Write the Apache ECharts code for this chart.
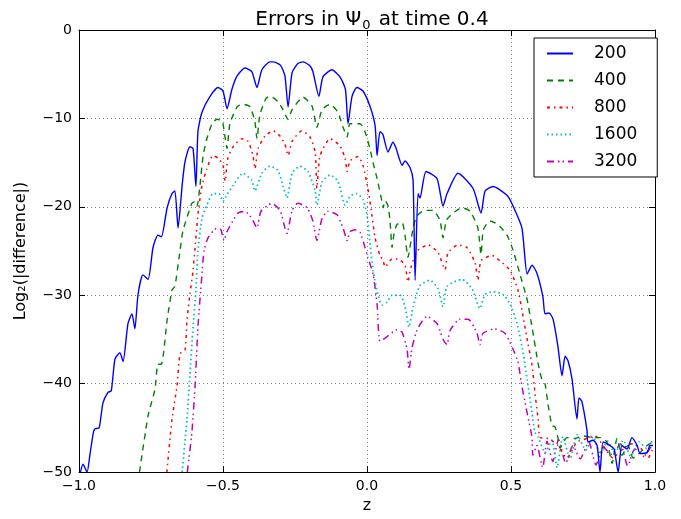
<!DOCTYPE html>
<html><head><meta charset="utf-8">
<script src="https://cdn.jsdelivr.net/npm/echarts@6/dist/echarts.min.js"></script>
<style>html,body{margin:0;padding:0;background:#fff}#c{width:681px;height:519px}</style>
</head><body><div id="c"></div>
<script>
const seriesNames = ["200","400","800","1600","3200"];
const xTicks = [-1.0,-0.5,0.0,0.5,1.0];
const yTicks = [0,-10,-20,-30,-40,-50];

const z200 = [-0.995,-0.986,-0.972,-0.962,-0.950,-0.944,-0.930,-0.917,-0.900,-0.888,-0.875,-0.858,-0.847,-0.830,-0.816,-0.806,-0.795,-0.778,-0.760,-0.743,-0.726,-0.714,-0.694,-0.677,-0.667,-0.656,-0.642,-0.632,-0.615,-0.604,-0.594,-0.587,-0.573,-0.545,-0.517,-0.500,-0.486,-0.469,-0.451,-0.424,-0.400,-0.382,-0.365,-0.337,-0.326,-0.300,-0.285,-0.274,-0.260,-0.240,-0.222,-0.200,-0.188,-0.167,-0.153,-0.122,-0.094,-0.075,-0.066,-0.052,-0.035,-0.014,0.010,0.028,0.035,0.045,0.055,0.073,0.090,0.100,0.122,0.132,0.150,0.160,0.167,0.177,0.184,0.205,0.243,0.264,0.278,0.316,0.368,0.396,0.410,0.438,0.486,0.507,0.538,0.556,0.573,0.590,0.611,0.618,0.632,0.646,0.663,0.677,0.688,0.698,0.712,0.729,0.736,0.746,0.764,0.767,0.785,0.799,0.809,0.820,0.844,0.858,0.872,0.885,0.903,0.920,0.938,0.948,0.972,0.983,0.993];
const v200 = [-50.0,-49.1,-50.0,-48.0,-45.5,-45.1,-45.0,-42.2,-41.0,-40.8,-37.2,-36.5,-37.5,-33.2,-32.1,-33.8,-29.9,-27.7,-28.2,-24.6,-23.2,-23.4,-20.1,-18.5,-18.2,-22.4,-17.6,-14.9,-13.2,-13.4,-17.7,-11.5,-9.3,-7.5,-6.5,-6.9,-8.9,-6.7,-5.2,-4.3,-4.7,-6.5,-4.5,-3.6,-3.6,-4.0,-5.2,-8.7,-4.8,-3.8,-3.6,-4.0,-4.7,-7.5,-5.3,-4.5,-5.3,-6.7,-10.6,-7.5,-6.5,-6.9,-8.6,-10.8,-14.2,-11.5,-11.8,-13.8,-12.7,-13.3,-15.3,-14.8,-15.6,-17.0,-28.3,-18.5,-19.0,-16.0,-16.8,-19.9,-18.5,-16.2,-17.9,-20.7,-18.2,-17.7,-18.7,-19.9,-22.4,-27.6,-26.6,-27.5,-30.2,-32.1,-32.0,-32.7,-35.8,-39.1,-36.9,-37.4,-39.5,-44.0,-41.6,-42.0,-45.3,-46.6,-46.4,-47.0,-50.0,-46.6,-47.0,-47.4,-50.0,-47.0,-47.4,-46.1,-47.0,-47.9,-47.8,-47.0,-47.0];

const z400 = [-0.790,-0.760,-0.736,-0.726,-0.714,-0.694,-0.677,-0.667,-0.649,-0.639,-0.608,-0.597,-0.590,-0.580,-0.569,-0.556,-0.538,-0.521,-0.503,-0.497,-0.486,-0.476,-0.451,-0.431,-0.406,-0.389,-0.382,-0.372,-0.350,-0.335,-0.309,-0.292,-0.274,-0.260,-0.222,-0.191,-0.174,-0.156,-0.128,-0.101,-0.083,-0.069,-0.059,-0.024,-0.007,0.010,0.021,0.035,0.052,0.056,0.063,0.073,0.080,0.087,0.094,0.104,0.122,0.132,0.142,0.160,0.174,0.201,0.229,0.253,0.264,0.276,0.299,0.330,0.358,0.385,0.396,0.404,0.427,0.455,0.486,0.507,0.531,0.556,0.573,0.594,0.607,0.618,0.628,0.642,0.653,0.663,0.670,0.694,0.722,0.750,0.781,0.809,0.833,0.851,0.868,0.885,0.906,0.924,0.948,0.972,0.993];
const v400 = [-50.0,-43.6,-40.6,-37.8,-37.8,-32.8,-29.4,-29.0,-24.9,-22.7,-19.6,-19.4,-19.9,-17.6,-14.2,-12.3,-10.6,-10.1,-10.3,-11.2,-13.4,-10.6,-8.7,-8.4,-8.7,-10.4,-12.3,-9.6,-7.7,-7.5,-8.1,-9.0,-10.1,-9.0,-7.6,-8.6,-11.0,-9.0,-8.4,-9.3,-11.0,-12.1,-10.6,-10.6,-11.5,-13.4,-15.0,-16.8,-19.4,-20.1,-19.3,-19.9,-21.6,-24.6,-23.0,-22.0,-21.8,-23.2,-25.7,-22.4,-21.0,-20.4,-20.4,-21.5,-23.5,-21.5,-20.7,-20.1,-20.5,-22.4,-25.4,-22.6,-21.6,-22.0,-23.2,-24.9,-27.6,-30.5,-33.6,-37.7,-39.5,-40.0,-42.2,-44.7,-44.9,-46.1,-47.3,-46.1,-46.2,-45.9,-46.1,-46.1,-46.6,-49.0,-46.2,-48.1,-47.0,-48.4,-47.8,-47.0,-46.6];

const z800 = [-0.695,-0.677,-0.660,-0.649,-0.632,-0.625,-0.615,-0.604,-0.597,-0.587,-0.573,-0.556,-0.535,-0.517,-0.500,-0.493,-0.483,-0.465,-0.434,-0.413,-0.396,-0.389,-0.378,-0.354,-0.326,-0.302,-0.285,-0.274,-0.260,-0.226,-0.198,-0.180,-0.174,-0.163,-0.128,-0.094,-0.076,-0.069,-0.059,-0.031,-0.014,0.003,0.017,0.028,0.045,0.056,0.063,0.087,0.108,0.132,0.142,0.153,0.174,0.212,0.247,0.271,0.281,0.316,0.347,0.375,0.385,0.396,0.434,0.462,0.497,0.524,0.542,0.559,0.573,0.583,0.594,0.601,0.629,0.663,0.694,0.729,0.764,0.792,0.820,0.854,0.889,0.920,0.948,0.976,0.993];
const v800 = [-50.0,-44.0,-40.3,-36.6,-36.2,-32.8,-29.9,-27.2,-24.6,-20.9,-17.6,-15.7,-14.2,-14.5,-15.3,-17.1,-14.5,-13.2,-12.3,-12.6,-14.2,-15.7,-13.4,-12.0,-11.4,-12.0,-12.9,-14.2,-12.6,-11.4,-12.1,-13.8,-17.9,-14.2,-12.3,-13.1,-14.5,-16.0,-14.8,-14.3,-15.3,-17.9,-20.9,-23.5,-25.5,-26.1,-26.8,-25.9,-25.9,-26.6,-28.5,-26.8,-25.0,-24.3,-25.2,-27.1,-25.2,-24.3,-24.6,-26.3,-28.3,-26.1,-25.5,-26.1,-27.2,-29.4,-32.4,-35.5,-37.9,-41.0,-44.0,-46.1,-46.2,-47.0,-48.4,-46.6,-46.2,-45.9,-47.0,-48.4,-47.3,-46.8,-47.2,-48.4,-47.3];

const z1600 = [-0.642,-0.625,-0.615,-0.604,-0.594,-0.587,-0.573,-0.556,-0.535,-0.514,-0.500,-0.486,-0.465,-0.431,-0.400,-0.389,-0.365,-0.337,-0.309,-0.292,-0.278,-0.260,-0.233,-0.205,-0.180,-0.174,-0.156,-0.128,-0.101,-0.076,-0.059,-0.035,-0.014,0.000,0.010,0.021,0.038,0.052,0.069,0.087,0.115,0.132,0.146,0.160,0.184,0.219,0.247,0.264,0.278,0.330,0.365,0.392,0.410,0.438,0.472,0.497,0.521,0.542,0.556,0.573,0.583,0.594,0.618,0.642,0.660,0.680,0.705,0.730,0.760,0.785,0.810,0.835,0.860,0.890,0.915,0.945,0.970,0.995];
const v1600 = [-50.0,-44.0,-39.1,-33.6,-29.4,-25.0,-21.3,-19.8,-18.5,-18.5,-19.4,-18.6,-17.6,-16.2,-17.0,-18.2,-16.2,-15.4,-15.9,-17.6,-19.0,-16.2,-15.4,-16.0,-18.2,-19.8,-17.2,-16.4,-17.1,-19.8,-18.8,-18.5,-19.2,-20.9,-24.0,-27.2,-29.9,-31.1,-30.8,-30.0,-30.0,-31.3,-33.6,-31.3,-28.9,-28.3,-29.3,-31.3,-29.0,-28.2,-29.3,-31.5,-29.9,-29.6,-29.9,-31.0,-33.2,-36.5,-39.5,-43.3,-45.5,-46.0,-47.8,-46.4,-49.5,-46.0,-48.5,-45.8,-47.5,-46.0,-48.0,-46.5,-47.8,-46.4,-48.2,-46.6,-47.3,-46.2];

const z3200 = [-0.624,-0.608,-0.597,-0.587,-0.573,-0.566,-0.552,-0.521,-0.507,-0.497,-0.486,-0.448,-0.424,-0.400,-0.389,-0.382,-0.368,-0.330,-0.302,-0.285,-0.278,-0.260,-0.240,-0.208,-0.188,-0.174,-0.156,-0.135,-0.104,-0.083,-0.069,-0.059,-0.042,-0.024,-0.007,0.003,0.021,0.035,0.045,0.069,0.104,0.122,0.139,0.146,0.156,0.174,0.208,0.243,0.264,0.278,0.288,0.323,0.351,0.382,0.392,0.403,0.444,0.479,0.507,0.524,0.538,0.556,0.573,0.576,0.590,0.610,0.625,0.645,0.665,0.690,0.715,0.740,0.770,0.795,0.820,0.850,0.880,0.905,0.930,0.960,0.990];
const v3200 = [-50.0,-45.5,-40.3,-33.6,-27.6,-25.0,-23.5,-22.4,-22.6,-23.8,-22.8,-20.7,-20.5,-21.3,-22.0,-22.4,-20.5,-19.6,-20.4,-22.4,-23.0,-20.4,-19.6,-20.1,-21.6,-23.8,-21.3,-20.5,-20.9,-22.4,-23.8,-22.8,-22.6,-22.9,-24.6,-25.7,-27.6,-31.0,-35.2,-34.7,-33.9,-34.2,-36.1,-38.4,-36.0,-33.9,-32.4,-33.2,-35.0,-35.6,-34.0,-32.7,-32.7,-34.3,-35.6,-34.3,-33.8,-34.3,-36.1,-37.5,-40.3,-43.3,-46.1,-48.1,-47.0,-49.5,-46.5,-48.8,-46.3,-49.0,-47.0,-48.5,-46.6,-49.2,-47.2,-48.0,-46.8,-49.3,-47.4,-48.2,-46.9];

const zs = [z200,z400,z800,z1600,z3200];
const vs = [v200,v400,v800,v1600,v3200];
const colors = ['#0000ff','#008000','#ff0000','#00bfbf','#bf00bf'];
const dashes = ['solid',[6,5],[3,4,1.5,4],[1.5,3],[7,4,1.5,3,1.5,4]];
const widths = [1.4,1.4,1.5,1.8,1.5];

const FONT = 'DejaVu Sans';
const fmt = v => (v<0?'\u2212':'') + Math.abs(v);
const fmtX = v => (v<0?'\u2212':'') + Math.abs(v).toFixed(1);

const chart = echarts.init(document.getElementById('c'), null, {renderer:'canvas'});
const axisLine = {show:true, onZero:false, lineStyle:{color:'#000', width:1}};
const tick = {show:true, inside:true, length:6, lineStyle:{color:'#000'}};
chart.setOption({
  animation:false,
  backgroundColor:'#fff',
  textStyle:{fontFamily:FONT},
  title:{text:'{a|Errors in \u03A8}{b|0}{a| at time 0.4}', left:367, top:2, textAlign:'center',
    textStyle:{fontFamily:FONT, fontSize:20, fontWeight:'normal', color:'#000',
      rich:{a:{fontFamily:FONT, fontSize:20, color:'#000'},
            b:{fontFamily:FONT, fontSize:13, color:'#000', padding:[12,2,0,1]}}}},
  grid:{left:79, right:26, top:30, bottom:42, show:false},
  legend:{orient:'vertical', left:534, top:38, data:seriesNames,
    itemWidth:26, itemHeight:14, itemGap:10,
    padding:[7,20,7,12],
    borderColor:'#000', borderWidth:1, backgroundColor:'#fff',
    itemStyle:{opacity:0},
    textStyle:{fontFamily:FONT, fontSize:17, color:'#000', padding:[0,0,0,16]}},
  xAxis:[{type:'value', min:-1, max:1, interval:0.5, position:'bottom',
    name:'z', nameLocation:'middle', nameGap:24,
    nameTextStyle:{fontFamily:FONT, fontSize:16, color:'#000'},
    axisLine, axisTick:tick,
    axisLabel:{formatter:fmtX, color:'#000', fontFamily:FONT, fontSize:14, margin:7},
    splitLine:{show:true, lineStyle:{color:'#808080', type:[1,3], width:1}}},
   {type:'value', min:-1, max:1, interval:0.5, position:'top',
    axisLine, axisTick:tick, axisLabel:{show:false}, splitLine:{show:false}}],
  yAxis:[{type:'value', min:-50, max:0, interval:10, position:'left',
    name:'Log\u2082(|difference|)', nameLocation:'middle', nameGap:50,
    nameTextStyle:{fontFamily:FONT, fontSize:16, color:'#000'},
    axisLine, axisTick:tick,
    axisLabel:{formatter:fmt, color:'#000', fontFamily:FONT, fontSize:14, margin:7},
    splitLine:{show:true, lineStyle:{color:'#808080', type:[1,3], width:1}}},
   {type:'value', min:-50, max:0, interval:10, position:'right',
    axisLine, axisTick:tick, axisLabel:{show:false}, splitLine:{show:false}}],
  series: seriesNames.map((n,k)=>({
    name:n, type:'line', showSymbol:false, symbol:'none',
    smooth:0.2,
    data: zs[k].map((z,i)=>[z, vs[k][i]]),
    color: colors[k],
    lineStyle:{color:colors[k], width:widths[k], type:dashes[k]},
    z: 10-k
  }))
});
</script></body></html>
